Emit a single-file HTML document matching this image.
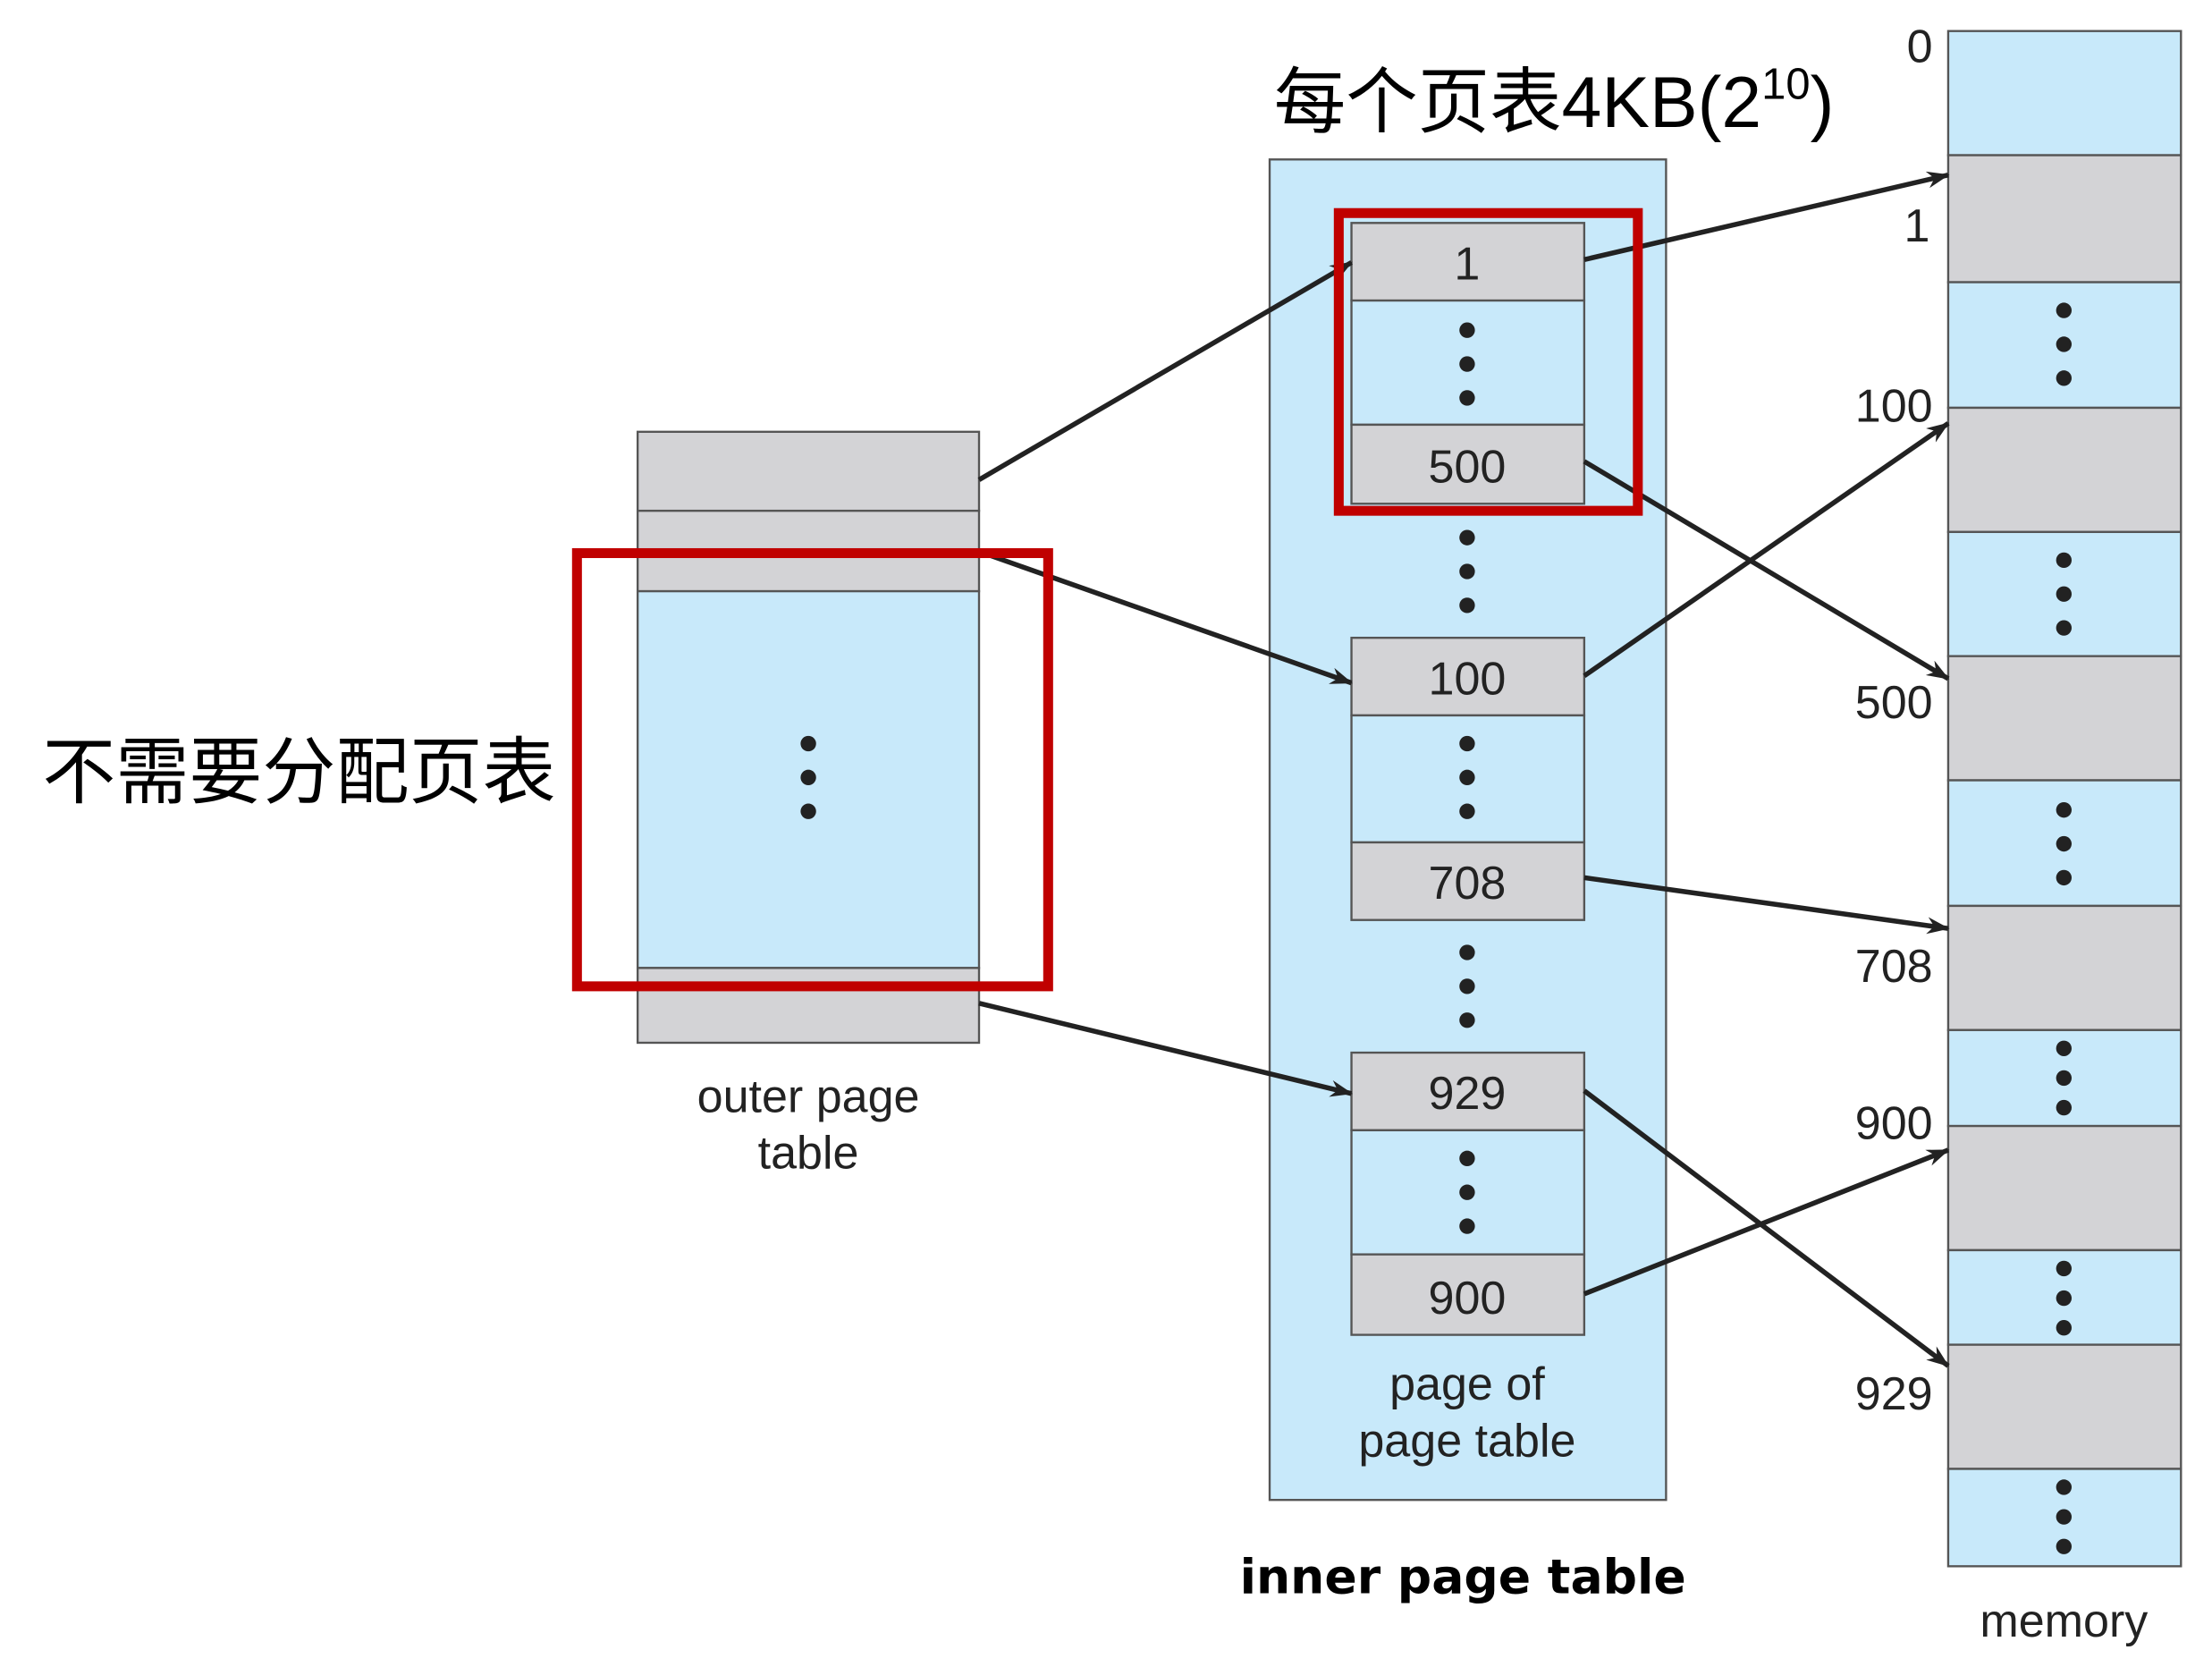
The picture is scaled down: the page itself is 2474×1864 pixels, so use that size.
<!DOCTYPE html>
<html><head><meta charset="utf-8"><style>html,body{margin:0;padding:0;background:#fff}svg{display:block}</style></head><body>
<svg width="2474" height="1864" viewBox="0 0 1568 1181.4" preserveAspectRatio="none" xmlns="http://www.w3.org/2000/svg" font-family="'Liberation Sans','Noto Sans CJK SC',sans-serif">
<defs><marker id="a" markerWidth="16" markerHeight="12" refX="15" refY="6" orient="auto" markerUnits="userSpaceOnUse" viewBox="0 0 16 12"><path d="M0,0 L16,6 L0,12 L5,6 Z" fill="#222"/></marker></defs>
<g stroke="#555" stroke-width="1.5">
<rect x="452" y="306" width="242" height="56" fill="#d3d3d6"/>
<rect x="452" y="362" width="242" height="57" fill="#d3d3d6"/>
<rect x="452" y="419" width="242" height="267" fill="#c8e9fa"/>
<rect x="452" y="686" width="242" height="53" fill="#d3d3d6"/>
<rect x="900" y="113" width="281" height="950" fill="#c8e9fa"/>
<rect x="958" y="158" width="165" height="55" fill="#d3d3d6"/>
<rect x="958" y="213" width="165" height="88" fill="#c8e9fa"/>
<rect x="958" y="301" width="165" height="56" fill="#d3d3d6"/>
<rect x="958" y="452" width="165" height="55" fill="#d3d3d6"/>
<rect x="958" y="507" width="165" height="90" fill="#c8e9fa"/>
<rect x="958" y="597" width="165" height="55" fill="#d3d3d6"/>
<rect x="958" y="746" width="165" height="55" fill="#d3d3d6"/>
<rect x="958" y="801" width="165" height="88" fill="#c8e9fa"/>
<rect x="958" y="889" width="165" height="57" fill="#d3d3d6"/>
<rect x="1381" y="22" width="165" height="88" fill="#c8e9fa"/>
<rect x="1381" y="110" width="165" height="90" fill="#d3d3d6"/>
<rect x="1381" y="200" width="165" height="89" fill="#c8e9fa"/>
<rect x="1381" y="289" width="165" height="88" fill="#d3d3d6"/>
<rect x="1381" y="377" width="165" height="88" fill="#c8e9fa"/>
<rect x="1381" y="465" width="165" height="88" fill="#d3d3d6"/>
<rect x="1381" y="553" width="165" height="89" fill="#c8e9fa"/>
<rect x="1381" y="642" width="165" height="88" fill="#d3d3d6"/>
<rect x="1381" y="730" width="165" height="68" fill="#c8e9fa"/>
<rect x="1381" y="798" width="165" height="88" fill="#d3d3d6"/>
<rect x="1381" y="886" width="165" height="67" fill="#c8e9fa"/>
<rect x="1381" y="953" width="165" height="88" fill="#d3d3d6"/>
<rect x="1381" y="1041" width="165" height="69" fill="#c8e9fa"/>
</g>
<g fill="#222">
<circle cx="573" cy="527" r="5.5"/><circle cx="573" cy="551" r="5.5"/><circle cx="573" cy="575" r="5.5"/>
<circle cx="1040" cy="234" r="5.5"/><circle cx="1040" cy="258" r="5.5"/><circle cx="1040" cy="282" r="5.5"/>
<circle cx="1040" cy="381" r="5.5"/><circle cx="1040" cy="405" r="5.5"/><circle cx="1040" cy="429" r="5.5"/>
<circle cx="1040" cy="527" r="5.5"/><circle cx="1040" cy="551" r="5.5"/><circle cx="1040" cy="575" r="5.5"/>
<circle cx="1040" cy="675" r="5.5"/><circle cx="1040" cy="699" r="5.5"/><circle cx="1040" cy="723" r="5.5"/>
<circle cx="1040" cy="821" r="5.5"/><circle cx="1040" cy="845" r="5.5"/><circle cx="1040" cy="869" r="5.5"/>
<circle cx="1463" cy="220" r="5.5"/><circle cx="1463" cy="244" r="5.5"/><circle cx="1463" cy="268" r="5.5"/>
<circle cx="1463" cy="397" r="5.5"/><circle cx="1463" cy="421" r="5.5"/><circle cx="1463" cy="445" r="5.5"/>
<circle cx="1463" cy="574" r="5.5"/><circle cx="1463" cy="598" r="5.5"/><circle cx="1463" cy="622" r="5.5"/>
<circle cx="1463" cy="743" r="5.5"/><circle cx="1463" cy="764" r="5.5"/><circle cx="1463" cy="785" r="5.5"/>
<circle cx="1463" cy="899" r="5.5"/><circle cx="1463" cy="920" r="5.5"/><circle cx="1463" cy="941" r="5.5"/>
<circle cx="1463" cy="1054" r="5.5"/><circle cx="1463" cy="1075" r="5.5"/><circle cx="1463" cy="1096" r="5.5"/>
</g>
<g stroke="#222" stroke-width="3.5" marker-end="url(#a)">
<line x1="694" y1="340" x2="958" y2="186"/>
<line x1="700" y1="393" x2="958" y2="484"/>
<line x1="694" y1="711" x2="958" y2="775"/>
<line x1="1123" y1="184" x2="1381" y2="124"/>
<line x1="1123" y1="327" x2="1381" y2="481"/>
<line x1="1123" y1="479" x2="1381" y2="300"/>
<line x1="1123" y1="622" x2="1381" y2="658"/>
<line x1="1123" y1="773" x2="1381" y2="968"/>
<line x1="1123" y1="917" x2="1381" y2="815"/>
</g>
<rect x="409" y="392" width="334" height="307" fill="none" stroke="#c00000" stroke-width="7"/>
<rect x="949" y="151" width="212" height="211" fill="none" stroke="#c00000" stroke-width="7"/>
<g fill="#222" font-size="33" text-anchor="middle">
<text x="1040" y="198">1</text><text x="1040" y="342">500</text>
<text x="1040" y="492">100</text><text x="1040" y="637">708</text>
<text x="1040" y="786">929</text><text x="1040" y="931">900</text>
<text x="573" y="788">outer page</text><text x="573" y="828">table</text>
<text x="1040" y="992">page of</text><text x="1040" y="1032">page table</text>
<text x="1463" y="1160">memory</text>
</g>
<g fill="#222" font-size="33" text-anchor="end">
<text x="1370" y="44">0</text><text x="1368" y="171">1</text>
<text x="1370" y="299">100</text><text x="1370" y="509">500</text>
<text x="1370" y="696">708</text><text x="1370" y="807">900</text>
<text x="1370" y="999">929</text>
</g>
<text x="1037" y="1129" font-size="34" font-weight="bold" text-anchor="middle" font-family="'DejaVu Sans',sans-serif">inner page table</text>
<text x="903" y="90" font-size="51" fill="#000">每个页表4KB(2<tspan font-size="31" dy="-20">10</tspan><tspan dy="20">)</tspan></text>
<text x="30" y="565" font-size="52" fill="#000">不需要分配页表</text>
</svg>
</body></html>
